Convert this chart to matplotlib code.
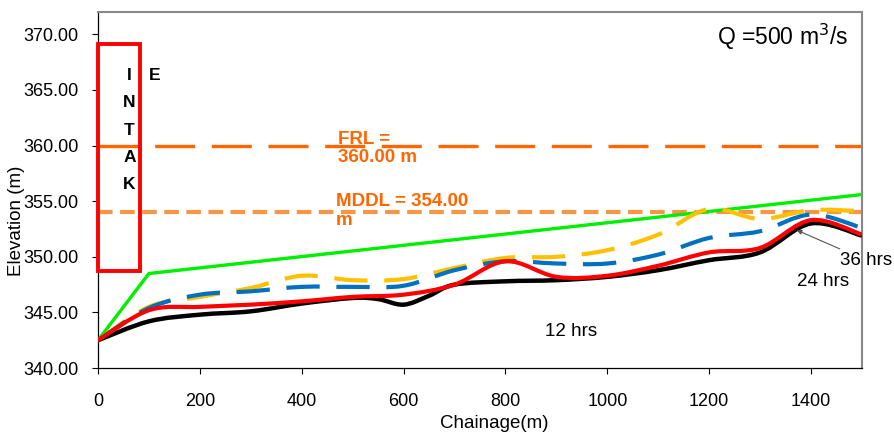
import matplotlib
matplotlib.use("Agg")
import matplotlib.pyplot as plt
from matplotlib.path import Path
from matplotlib.patches import PathPatch, Rectangle
from matplotlib.ticker import FormatStrFormatter

plt.rcParams['font.family'] = ['Liberation Sans', 'DejaVu Sans']

# ---- data ----
chain = [0, 100, 200, 300, 400, 500, 600, 700, 800, 900, 1000, 1100, 1200, 1300, 1400, 1500]
h36 = [342.5, 345.5, 346.4, 347.2, 348.3, 347.9, 348.0, 349.0, 349.9, 350.0, 350.6, 352.0, 354.3, 353.4, 354.2, 354.1]
h24 = [342.5, 345.4, 346.6, 346.9, 347.3, 347.3, 347.4, 348.8, 349.6, 349.4, 349.4, 350.2, 351.7, 352.3, 353.8, 352.6]
h12 = [342.5, 345.2, 345.5, 345.7, 346.0, 346.4, 346.6, 347.5, 349.6, 348.2, 348.3, 349.2, 350.4, 350.8, 353.3, 352.0]
bed_chain = [0, 100, 200, 300, 400, 500, 550, 600, 650, 700, 800, 900, 1000, 1100, 1200, 1300, 1400, 1500]
bed = [342.5, 344.2, 344.8, 345.1, 345.8, 346.3, 346.2, 345.7, 346.5, 347.5, 347.8, 347.9, 348.2, 348.8, 349.7, 350.4, 353.0, 351.9]
top_chain = [0, 100, 1500]
top = [342.5, 348.5, 355.6]
FRL = 360.0
MDDL = 354.0
intake_x = [0, 82]
intake_y = [348.7, 369.1]
xticks = [0, 200, 400, 600, 800, 1000, 1200, 1400]
yticks = [340, 345, 350, 355, 360, 365, 370]


def smooth_path(xs, ys):
    pts = list(zip(xs, ys))
    n = len(pts)
    verts = [pts[0]]
    codes = [Path.MOVETO]
    for i in range(n - 1):
        p0 = pts[i - 1] if i > 0 else pts[i]
        p1 = pts[i]
        p2 = pts[i + 1]
        p3 = pts[i + 2] if i + 2 < n else pts[i + 1]
        c1 = (p1[0] + (p2[0] - p0[0]) / 6.0, p1[1] + (p2[1] - p0[1]) / 6.0)
        c2 = (p2[0] - (p3[0] - p1[0]) / 6.0, p2[1] - (p3[1] - p1[1]) / 6.0)
        verts += [c1, c2, p2]
        codes += [Path.CURVE4] * 3
    return Path(verts, codes)


fig = plt.figure(figsize=(8.95, 4.32), dpi=100)
ax = fig.add_axes([0.1095, 0.148, 0.8536, 0.824])

ax.set_xlim(0, 1500)
ax.set_ylim(340, 372)

# top line
ax.plot(top_chain, top, color='#00EE00', lw=2.4, zorder=3)
# levels
ax.axhline(MDDL, color='#F79646', lw=3.0, linestyle=(0, (3.5, 1.8)), zorder=2)
ax.axhline(FRL, color='#FF6600', lw=2.4, linestyle=(0, (12, 5)), zorder=2)

# profiles
ax.add_patch(PathPatch(smooth_path(chain, h36), fill=False, edgecolor='#FFC000', lw=3.0,
                       linestyle=(0, (8, 4)), zorder=4))
ax.add_patch(PathPatch(smooth_path(chain, h24), fill=False, edgecolor='#0070C0', lw=3.0,
                       linestyle=(0, (8, 4)), zorder=5))
ax.add_patch(PathPatch(smooth_path(bed_chain, bed), fill=False, edgecolor='black', lw=3.2, zorder=6))
ax.add_patch(PathPatch(smooth_path(chain, h12), fill=False, edgecolor='#FF0000', lw=3.0, zorder=7))

# intake box
ax.add_patch(Rectangle((intake_x[0], intake_y[0]), intake_x[1] - intake_x[0], intake_y[1] - intake_y[0],
                       fill=False, edgecolor='#FF0000', lw=2.8, zorder=8, clip_on=False))
for i, ch in enumerate("INTAK"):
    ax.text(62, 366.3 - i * 2.45, ch, ha='center', va='center', fontsize=12.5, fontweight='bold', zorder=9)
ax.text(112, 366.3, "E", ha='center', va='center', fontsize=12.5, fontweight='bold', zorder=9)

ax.text(471, 361.3, "FRL =\n360.00 m", color='#FF6600', fontsize=13.5, fontweight='bold',
        ha='left', va='top', linespacing=1.1, zorder=9)
ax.text(467, 355.7, "MDDL = 354.00\nm", color='#FF6600', fontsize=13.5, fontweight='bold',
        ha='left', va='top', linespacing=1.1, zorder=9)

ax.text(1472, 369.8, "Q =500 m$^3$/s", fontsize=16.5, ha='right', va='center')

ax.annotate("36 hrs", xy=(1372, 352.4), xytext=(1456, 349.7), fontsize=13.5, ha='left', va='center',
            arrowprops=dict(arrowstyle='-|>', color='#555555', lw=0.8, mutation_scale=7,
                            shrinkA=0, shrinkB=0), annotation_clip=False, zorder=10)
ax.text(1372, 347.75, "24 hrs", fontsize=13.5, ha='left', va='center')
ax.text(878, 343.25, "12 hrs", fontsize=13.5, ha='left', va='center')

ax.set_xticks(xticks)
ax.set_yticks(yticks)
ax.yaxis.set_major_formatter(FormatStrFormatter('%.2f'))
ax.tick_params(axis='both', labelsize=13, direction='out', length=4, width=0.8, colors='black')
ax.tick_params(axis='x', pad=14)
ax.tick_params(axis='y', pad=10)

fig.text(494 / 895, 1 - 423 / 432, "Chainage(m)", fontsize=13.5, ha='center', va='center')
fig.text(17 / 895, 1 - 221 / 432, "Elevation (m)", fontsize=13.5, ha='center', va='center',
         rotation=90, zorder=0)

for s in ['top', 'right']:
    ax.spines[s].set_color('#888888')
    ax.spines[s].set_linewidth(1.5)
for s in ['left', 'bottom']:
    ax.spines[s].set_color('black')
    ax.spines[s].set_linewidth(0.9)

fig.savefig("out.png", dpi=100)
